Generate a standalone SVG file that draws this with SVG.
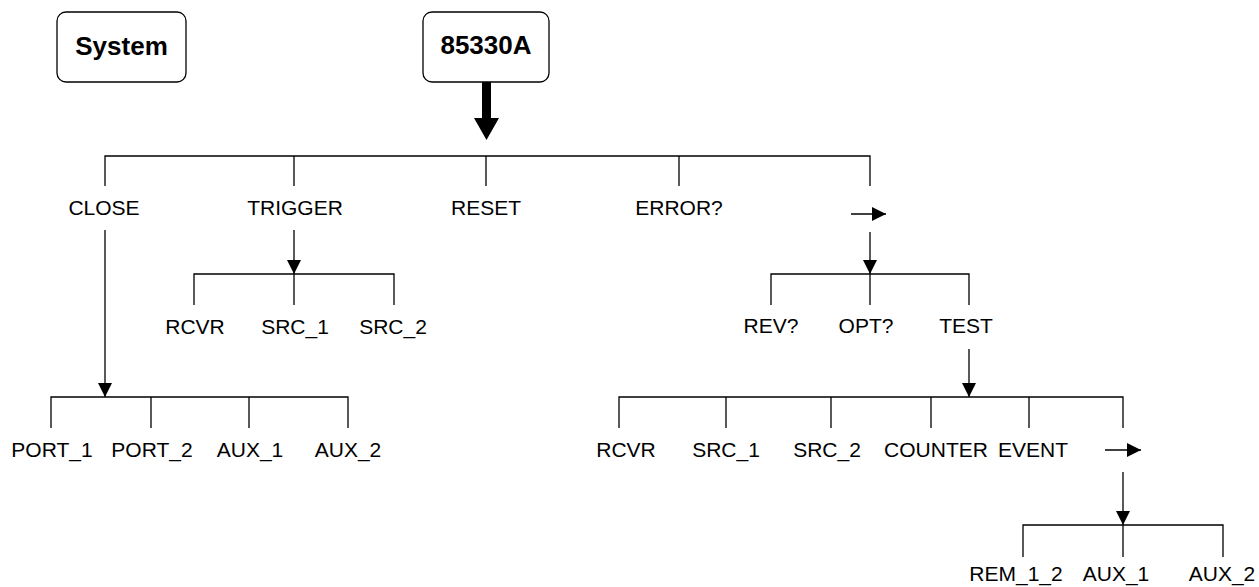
<svg xmlns="http://www.w3.org/2000/svg" width="1259" height="587" viewBox="0 0 1259 587">
<style>
.box{fill:#fff;stroke:#000;stroke-width:1.3}
.ln{fill:none;stroke:#000;stroke-width:1.3}
.arr{fill:none;stroke:#000;stroke-width:1.3;marker-end:url(#ah)}
.t{font-family:"Liberation Sans",Arial,Helvetica,sans-serif;font-size:21px;fill:#000;text-anchor:middle}
.b{font-family:"Liberation Sans",Arial,Helvetica,sans-serif;font-size:26px;font-weight:bold;fill:#000;text-anchor:middle}
</style>
<defs>
<marker id="ah" markerUnits="userSpaceOnUse" viewBox="0 0 14 14" markerWidth="14" markerHeight="14" refX="14" refY="7" orient="auto">
<path d="M0,0 L14,7 L0,14 z" fill="#000"/>
</marker>
</defs>
<rect width="1259" height="587" fill="#fff"/>
<g id="connectors">
<polygon points="482,82 491,82 491,118 499,118 486.5,140 474,118 482,118" fill="#000"/>
<path class="ln" d="M105,186 V156 H870 V186 M294,156 V186 M486,156 V186 M679,156 V186"/>
<line class="arr" x1="105" y1="230" x2="105" y2="397"/>
<path class="ln" d="M51,428 V397 H348 V428 M151,397 V428 M249,397 V428"/>
<line class="arr" x1="294" y1="230" x2="294" y2="274"/>
<path class="ln" d="M194,305 V274 H394 V305 M294,274 V305"/>
<line class="arr" x1="851" y1="214" x2="886" y2="214"/>
<line class="arr" x1="870" y1="232" x2="870" y2="274"/>
<path class="ln" d="M771,305 V274 H969 V305 M870,274 V305"/>
<line class="arr" x1="969" y1="349" x2="969" y2="397"/>
<path class="ln" d="M619,428 V397 H1123 V428 M726,397 V428 M831,397 V428 M931,397 V428 M1029,397 V428"/>
<line class="arr" x1="1105" y1="450" x2="1141" y2="450"/>
<line class="arr" x1="1123" y1="472" x2="1123" y2="525"/>
<path class="ln" d="M1023,557 V525 H1223 V557 M1123,525 V557"/>
</g>
<g id="system"><rect class="box" x="57" y="12" width="129" height="70" rx="9"/><text class="b" x="121.5" y="55">System</text></g>
<g id="n85330A"><rect class="box" x="423" y="12" width="126" height="70" rx="9"/><text class="b" x="486" y="54">85330A</text></g>
<g id="close"><text class="t" x="104" y="215">CLOSE</text></g>
<g id="trigger"><text class="t" x="295" y="215">TRIGGER</text></g>
<g id="reset"><text class="t" x="486" y="215">RESET</text></g>
<g id="error"><text class="t" x="679" y="215">ERROR?</text></g>
<g id="trig_rcvr"><text class="t" x="195" y="334">RCVR</text></g>
<g id="trig_src1"><text class="t" x="295" y="334">SRC_1</text></g>
<g id="trig_src2"><text class="t" x="393" y="334">SRC_2</text></g>
<g id="port1"><text class="t" x="52" y="457">PORT_1</text></g>
<g id="port2"><text class="t" x="152" y="457">PORT_2</text></g>
<g id="close_aux1"><text class="t" x="250" y="457">AUX_1</text></g>
<g id="close_aux2"><text class="t" x="348" y="457">AUX_2</text></g>
<g id="rev"><text class="t" x="771" y="333">REV?</text></g>
<g id="opt"><text class="t" x="866" y="333">OPT?</text></g>
<g id="test"><text class="t" x="966" y="333">TEST</text></g>
<g id="test_rcvr"><text class="t" x="626" y="457">RCVR</text></g>
<g id="test_src1"><text class="t" x="726" y="457">SRC_1</text></g>
<g id="test_src2"><text class="t" x="827" y="457">SRC_2</text></g>
<g id="counter"><text class="t" x="936" y="457">COUNTER</text></g>
<g id="event"><text class="t" x="1033" y="457">EVENT</text></g>
<g id="rem12"><text class="t" x="1016" y="581">REM_1_2</text></g>
<g id="test_aux1"><text class="t" x="1116" y="581">AUX_1</text></g>
<g id="test_aux2"><text class="t" x="1222" y="581">AUX_2</text></g>
</svg>
